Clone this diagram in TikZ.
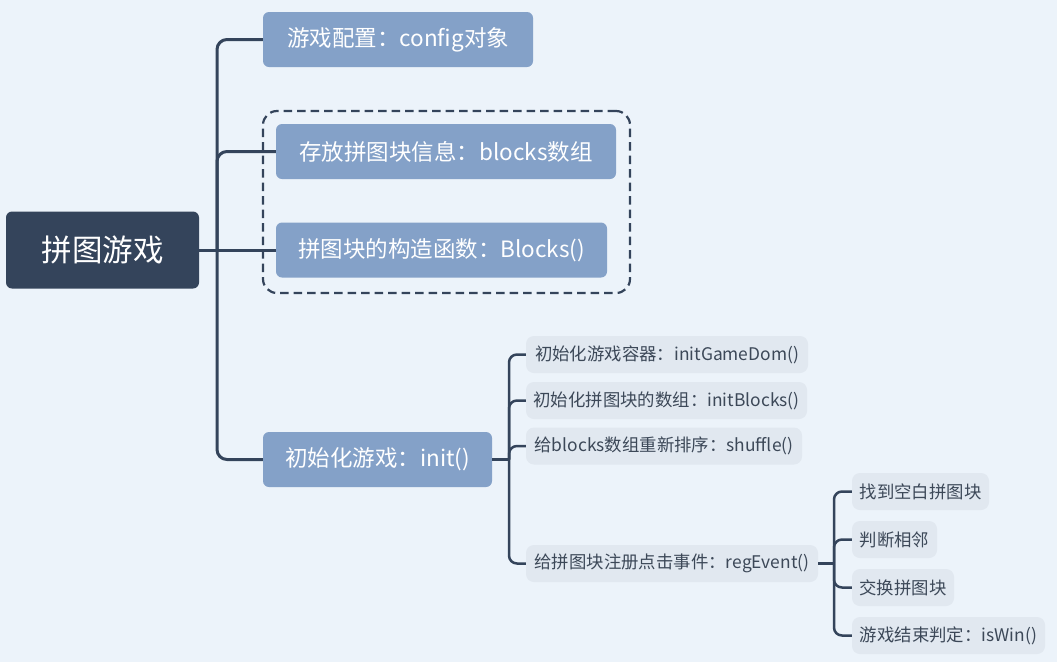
\documentclass[tikz,border=0pt]{standalone}
\usepackage{fontspec}
\setmainfont{Noto Sans CJK SC}
\definecolor{bgc}{HTML}{ECF3FA}
\definecolor{rootc}{HTML}{34445B}
\definecolor{lonec}{HTML}{84A1C8}
\definecolor{ltwoc}{HTML}{E1E8F0}
\definecolor{linec}{HTML}{34445B}
\definecolor{txtc}{HTML}{3C4858}
\begin{document}
\begin{tikzpicture}[x=1pt,y=-1pt,
  rootbox/.style={fill=rootc,text=white,rounded corners=6pt,inner sep=0pt,align=center,
    font=\fontsize{30.5}{34}\selectfont},
  onebox/.style={fill=lonec,text=white,rounded corners=6pt,inner sep=0pt,align=center,
    minimum height=55pt,font=\fontsize{22.5}{26}\selectfont},
  twobox/.style={fill=ltwoc,text=txtc,rounded corners=8pt,inner sep=0pt,align=center,
    minimum height=37pt,font=\fontsize{17.4}{20}\selectfont},
  mainline/.style={draw=linec,line width=3pt,rounded corners=10pt},
  subline/.style={draw=linec,line width=2.5pt,rounded corners=8pt},
  groupbox/.style={draw=linec,line width=2.2pt,dash pattern=on 8.5pt off 5pt,rounded corners=14pt}
]
\useasboundingbox (0,0) rectangle (1057,662);
\fill[bgc] (0,0) rectangle (1057,662);

% nodes
\node[rootbox,minimum width=193pt,minimum height=77pt] (root) at (102.5,250) {拼图游戏};
\node[onebox,minimum width=270pt] (n1) at (398,39.5) {游戏配置：config对象};
\node[onebox,minimum width=340pt] (n2) at (446,151.5) {存放拼图块信息：blocks数组};
\node[onebox,minimum width=331pt] (n3) at (441.5,250) {拼图块的构造函数：Blocks()};
\node[onebox,minimum width=229pt] (n4) at (377.5,459.5) {初始化游戏：init()};

\node[twobox,minimum width=282pt] (m1) at (667,354.5) {初始化游戏容器：initGameDom()};
\node[twobox,minimum width=281pt] (m2) at (666.5,400.5) {初始化拼图块的数组：initBlocks()};
\node[twobox,minimum width=276pt] (m3) at (664,446) {给blocks数组重新排序：shuffle()};
\node[twobox,minimum width=292pt] (m4) at (672,563.5) {给拼图块注册点击事件：regEvent()};

\node[twobox,minimum width=137pt] (k1) at (920.5,491.5) {找到空白拼图块};
\node[twobox,minimum width=85pt] (k2) at (894.5,539.5) {判断相邻};
\node[twobox,minimum width=102pt] (k3) at (903,587.5) {交换拼图块};
\node[twobox,minimum width=193pt] (k4) at (948.5,635.5) {游戏结束判定：isWin()};

% group box
\node[groupbox,minimum width=367pt,minimum height=182pt,inner sep=0pt] (grp) at (446.5,202) {};

% junction coordinates
\coordinate (t1) at (217,250);
\coordinate (t2) at (509,459.5);
\coordinate (t3) at (834,563.5);

% connectors
\draw[mainline] (n1.west) -| (t1) |- (n4.west);
\draw[mainline] (n2.west) -| (t1);
\draw[mainline] (root.east) -- (n3.west);

\draw[subline] (n4.east) -- (t2);
\draw[subline] (m1.west) -| (t2) |- (m4.west);
\draw[subline] (m2.west) -| (t2);
\draw[subline] (m3.west) -| (t2);

\draw[subline] (m4.east) -- (t3);
\draw[subline] (k1.west) -| (t3) |- (k4.west);
\draw[subline] (k2.west) -| (t3);
\draw[subline] (k3.west) -| (t3);
\end{tikzpicture}
\end{document}
